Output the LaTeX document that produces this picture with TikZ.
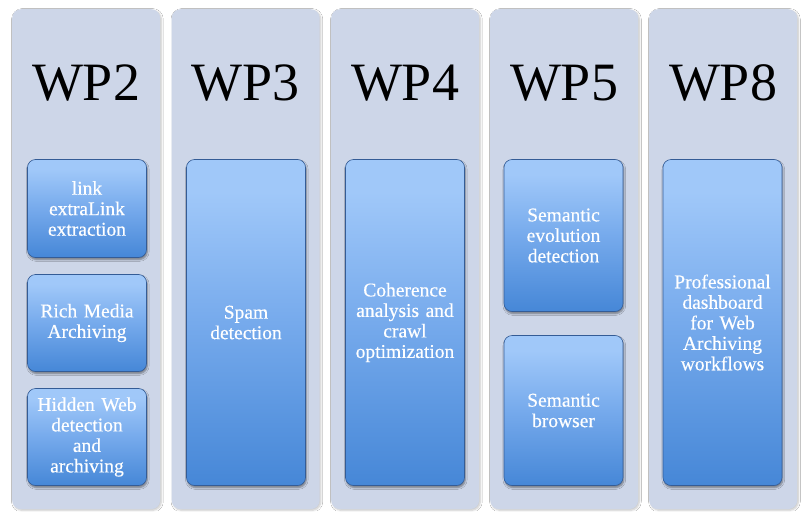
\documentclass[tikz,border=0pt]{standalone}
\usepackage{fontspec}
\setmainfont{Liberation Serif}
\newfontfamily\taskfont[BoldFont={Liberation Serif}, BoldFeatures={FakeBold=0.45}, WordSpace=0.85]{Liberation Serif}
\usetikzlibrary{shadows.blur}

\definecolor{colbg}{RGB}{205,214,232}
\definecolor{boxhi}{RGB}{205,236,255}
\definecolor{boxtop}{RGB}{160,200,249}
\definecolor{boxmid}{RGB}{118,170,236}
\definecolor{boxbot}{RGB}{70,135,215}
\definecolor{boxedge}{RGB}{52,92,150}

% vertical gradient of the task boxes (0bp = bottom, 100bp = top)
\pgfdeclareverticalshading{taskshade}{100bp}{%
  color(0bp)=(boxbot); color(25bp)=(boxbot); color(50bp)=(boxmid);
  color(70bp)=(boxtop); color(93bp)=(boxtop); color(98bp)=(boxhi);
  color(100bp)=(boxhi)}

\tikzset{
  column/.style={fill=colbg, rounded corners=9pt, anchor=north west,
    minimum width=148pt, minimum height=500pt, inner sep=0pt,
    blur shadow={shadow xshift=1.2pt, shadow yshift=-1.2pt,
      shadow blur steps=6, shadow opacity=22}},
  wptitle/.style={anchor=base, inner sep=0pt, text=black,
    font=\fontsize{54}{54}\selectfont},
  task/.style={shading=taskshade, draw=boxedge, line width=0.6pt,
    rounded corners=8pt, minimum width=119pt, inner sep=2pt,
    align=center, text=white, text width=114pt,
    font=\taskfont\bfseries\fontsize{19.5}{20.5}\selectfont,
    blur shadow={shadow xshift=0.8pt, shadow yshift=-2pt,
      shadow blur steps=5, shadow opacity=45}},
}

\begin{document}
\begin{tikzpicture}[x=1pt,y=-1pt]
\useasboundingbox (0,0) rectangle (802,511);
\fill[white] (0,0) rectangle (802,511);

% work package columns
\node[column] (c2) at (12,9) {};
\node[column] (c3) at (171.5,9) {};
\node[column] (c4) at (331,9) {};
\node[column] (c5) at (490,9) {};
\node[column] (c8) at (649,9) {};

% column headings
\node[wptitle] (t2) at (86,100) {WP2};
\node[wptitle] (t3) at (245.5,100) {WP3};
\node[wptitle] (t4) at (405,100) {WP4};
\node[wptitle] (t5) at (564,100) {WP5};
\node[wptitle] (t8) at (723,100) {WP8};

% WP2 tasks
\node[task, minimum height=98pt] (b21) at (87,208.5) {link\\extraLink\\extraction};
\node[task, minimum height=97pt] (b22) at (87,323) {Rich Media\\Archiving};
\node[task, minimum height=97pt] (b23) at (87,437) {Hidden Web\\detection\\and\\archiving};

% WP3 task
\node[task, minimum height=326pt] (b3) at (246,322.5) {Spam\\detection};

% WP4 task
\node[task, minimum height=326pt] (b4) at (405,322.5) {Coherence\\analysis and\\crawl\\optimization};

% WP5 tasks
\node[task, minimum height=152pt] (b51) at (563.5,235.5) {Semantic\\evolution\\detection};
\node[task, minimum height=150pt] (b52) at (563.5,410.5) {Semantic\\browser};

% WP8 task
\node[task, minimum height=326pt] (b8) at (722.5,322.5) {Professional\\dashboard\\for Web\\Archiving\\workflows};
\end{tikzpicture}
\end{document}
